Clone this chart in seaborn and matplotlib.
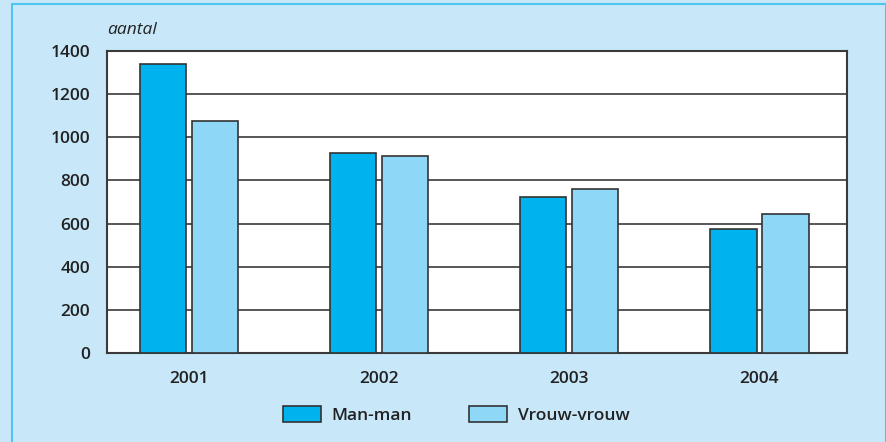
import matplotlib
matplotlib.use("Agg")
import matplotlib.pyplot as plt
import seaborn as sns
import pandas as pd
from matplotlib.patches import Rectangle, Patch

years = ["2001", "2002", "2003", "2004"]
man_man = [1340, 927, 725, 575]
vrouw_vrouw = [1075, 913, 760, 643]
series = ["Man-man", "Vrouw-vrouw"]
yticks = [0, 200, 400, 600, 800, 1000, 1200, 1400]

df = pd.DataFrame({
    "jaar": years * 2,
    "aantal": man_man + vrouw_vrouw,
    "type": [series[0]] * len(years) + [series[1]] * len(years),
})

sns.set_theme(style="white")
plt.rcParams['font.family'] = ['Open Sans', 'DejaVu Sans']

bg = "#C8E8F9"
colors = ["#00B2EE", "#8ED7F7"]
edge = "#333333"

fig = plt.figure(figsize=(8.87, 4.42), dpi=100, facecolor=bg)
ax = fig.add_axes([107/887, 1-353/442, 740/887, 302/442])
ax.set_facecolor("white")

sns.barplot(data=df, x="jaar", y="aantal", hue="type", palette=colors,
            saturation=1, width=0.547, gap=0.115, edgecolor=edge, linewidth=1.2,
            ax=ax, legend=False, zorder=3)

ax.set_ylim(0, 1400)
ax.set_xlim(-0.43, 3.46)
ax.set_yticks(yticks)
ax.set_yticklabels([str(v) for v in yticks])
for y in yticks:
    ax.axhline(y, color="#3a3a3a", lw=1.2, zorder=1)
for s in ax.spines.values():
    s.set_color("#3a3a3a")
    s.set_linewidth(1.5)
ax.set_xlabel("")
ax.set_ylabel("")
ax.tick_params(axis="both", length=0, labelsize=12.5, colors="#222222")
ax.tick_params(axis="y", pad=12)
ax.tick_params(axis="x", pad=13)
for lab in ax.get_xticklabels() + ax.get_yticklabels():
    lab.set_fontweight("semibold")

fig.text(107/887, 1-30/442, "aantal", fontsize=12.5, style="italic",
         color="#222222", va="center", ha="left")

handles = [Patch(facecolor=c, edgecolor=edge, linewidth=1.2) for c in colors]
leg = fig.legend(handles, series, loc="center", bbox_to_anchor=(456/887, 1-415/442),
                 ncol=2, frameon=False, handlelength=2.2, handleheight=1.05,
                 columnspacing=3.3, handletextpad=0.6,
                 prop={"size": 12.5, "weight": "semibold"})
for t in leg.get_texts():
    t.set_color("#222222")

fig.patches.append(Rectangle((12/887, -0.05), 874/887, 1.05-4/442, transform=fig.transFigure,
                             fill=False, edgecolor="#4FC3F2", linewidth=1.5))

fig.savefig("out.png", dpi=100, facecolor=bg)
